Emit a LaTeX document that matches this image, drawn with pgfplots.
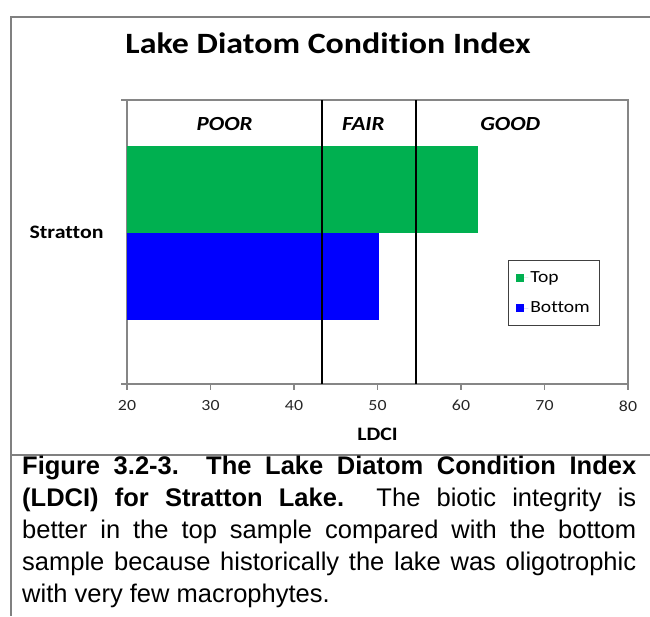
\documentclass[border=0pt]{standalone}
\usepackage{pgfplots}
\pgfplotsset{compat=1.18}
\usepackage{fontspec}
\setmainfont{Liberation Sans}
\newfontfamily\calfont[FakeStretch=1.15, Ligatures=CommonOff]{Carlito}
\definecolor{exgreen}{HTML}{00B050}
\definecolor{exblue}{HTML}{0000FF}
\definecolor{axgray}{HTML}{868686}
\definecolor{framegray}{HTML}{808080}
\begin{document}
\begin{tikzpicture}[x=1pt,y=1pt]
\path[use as bounding box] (0,0) rectangle (650,616);
\draw[framegray, line width=2pt] (650,599) -- (11,599) -- (11,0);
\draw[framegray, line width=2pt] (11,161) -- (650,161);
\node[font=\calfont\bfseries\fontsize{29.5}{34}\selectfont, anchor=base] at (328,562) {Lake Diatom Condition Index};
\begin{axis}[
  at={(127pt,232pt)}, anchor=south west,
  width=501pt, height=284pt, scale only axis,
  xmin=20, xmax=80, ymin=-1.741, ymax=1.523,
  xtick={20,30,40,50,60,70,80},
  ytick={0}, yticklabels={Stratton},
  axis line style={axgray, line width=1.5pt},
  tick pos=left,
  tick align=outside,
  x tick style={axgray, line width=1.2pt},
  major tick length=6pt,
  y tick style={draw=none},
  extra y ticks={-1.741,1.523},
  extra y tick labels={,},
  extra y tick style={y tick style={draw=axgray, line width=1.2pt}},
  /pgf/number format/assume math mode=true,
  xticklabel style={font=\calfont\fontsize{15.5}{18}\selectfont, text=black!85, yshift=-7pt},
  yticklabel style={font=\calfont\bfseries\fontsize{19}{22}\selectfont, xshift=-14pt},
  xlabel={LDCI},
  xlabel style={font=\calfont\bfseries\fontsize{19}{22}\selectfont, yshift=-10pt},
  legend style={at={(0.760,0.4366)}, anchor=north west, draw=black!75, line width=1.2pt,
    font=\calfont\fontsize{17}{19}\selectfont, row sep=14pt, inner xsep=8pt, inner ysep=9pt},
  legend cell align=left,
  clip=true,
]
\addplot[xbar, fill=exgreen, draw=none, bar width=1, bar shift=0,
  legend image code/.code={\fill[exgreen] (0pt,-4pt) rectangle (8pt,4pt); \path (0pt,0pt) -- (12pt,0pt);}]
  coordinates {(62.0,0.5)};
\addlegendentry{Top}
\addplot[xbar, fill=exblue, draw=none, bar width=1, bar shift=0,
  legend image code/.code={\fill[exblue] (0pt,-4pt) rectangle (8pt,4pt); \path (0pt,0pt) -- (12pt,0pt);}]
  coordinates {(50.2,-0.5)};
\addlegendentry{Bottom}
\addplot[black, line width=2pt, forget plot] coordinates {(43.3,-1.741) (43.3,1.523)};
\addplot[black, line width=2pt, forget plot] coordinates {(54.6,-1.741) (54.6,1.523)};
\node[font=\calfont\bfseries\itshape\fontsize{20}{24}\selectfont] at (axis cs:31.7,1.247) {POOR};
\node[font=\calfont\bfseries\itshape\fontsize{20}{24}\selectfont] at (axis cs:48.3,1.247) {FAIR};
\node[font=\calfont\bfseries\itshape\fontsize{20}{24}\selectfont] at (axis cs:65.9,1.247) {GOOD};
\end{axis}
\begin{scope}[every node/.style={anchor=base west, inner sep=0pt, font=\fontsize{25.5}{32}\selectfont}]
\node at (22,142) {\makebox[614pt][s]{\bfseries Figure 3.2-3.\ \ The Lake Diatom Condition Index}};
\node at (22,110) {\makebox[614pt][s]{\bfseries (LDCI) for Stratton Lake.\ \ \mdseries The biotic integrity is}};
\node at (22,78) {\makebox[614pt][s]{better in the top sample compared with the bottom}};
\node at (22,46) {\makebox[614pt][s]{sample because historically the lake was oligotrophic}};
\node at (22,14) {with very few macrophytes.};
\end{scope}
\end{tikzpicture}
\end{document}
